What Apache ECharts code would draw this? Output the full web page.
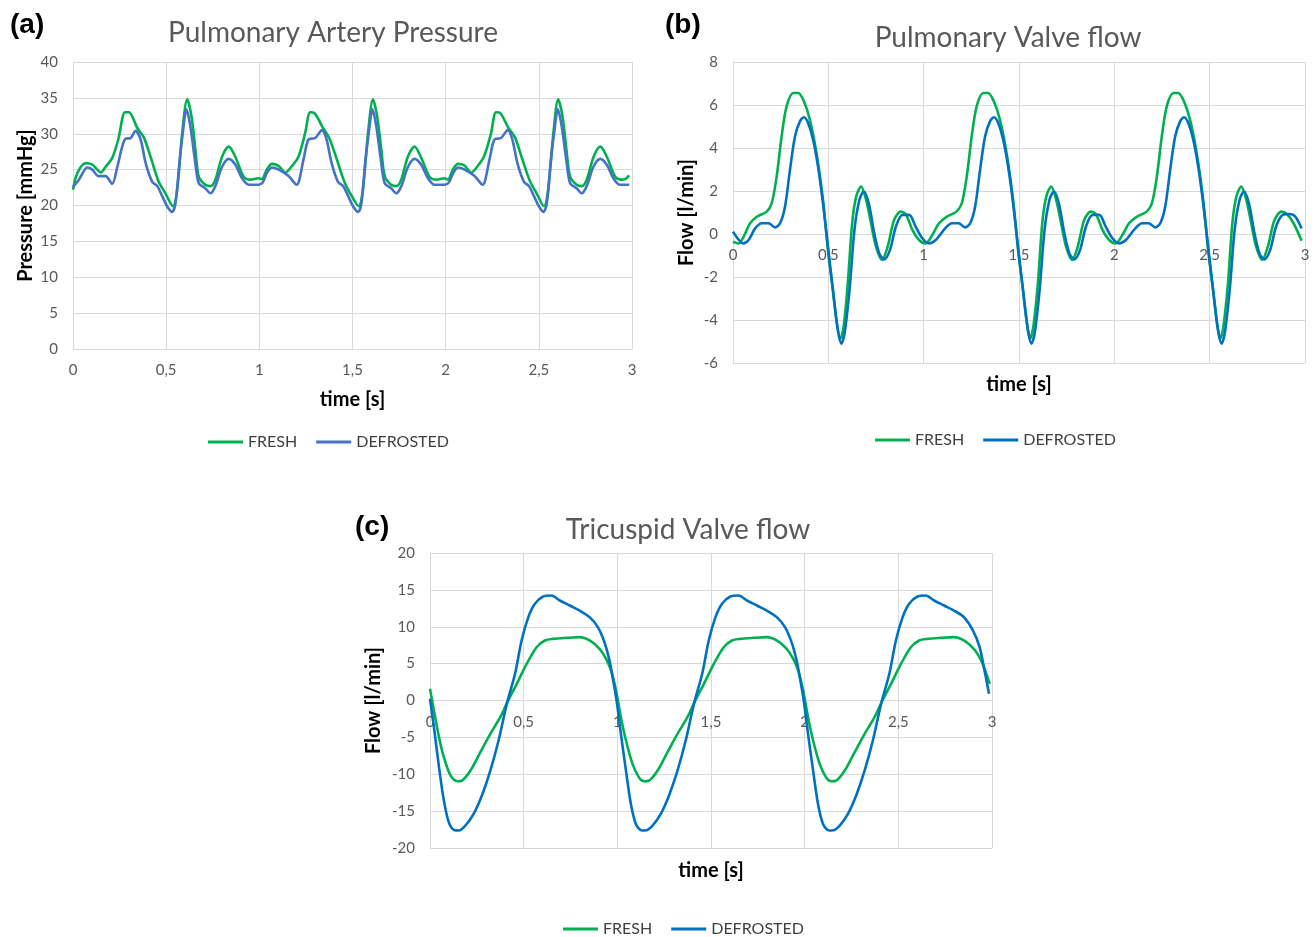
<!DOCTYPE html>
<html>
<head>
<meta charset="utf-8">
<script src="https://cdn.jsdelivr.net/npm/echarts@6/dist/echarts.min.js"></script>
<style>
  html, body { margin: 0; background: #ffffff; }
  #chart-container { width: 1316px; height: 937px; }
</style>
</head>
<body>
<div id="chart-container"></div>
<script>
// [time s, value] pairs
const papFresh = [
  [0,22.2],[0.023,24.5],[0.068,25.9],[0.104,25.7],[0.13,25.0],[0.148,24.6],[0.175,25.4],[0.21,26.6],[0.243,29.2],[0.279,33.0],[0.3,33.0],[0.345,30.8],[0.38,29.5],[0.416,26.8],[0.46,23.3],[0.496,21.7],[0.536,19.9],[0.559,22.2],[0.586,30.1],[0.613,34.8],[0.636,32.4],[0.657,27.8],[0.675,24.0],[0.71,22.9],[0.738,22.7],[0.764,23.6],[0.8,26.8],[0.836,28.2],[0.871,26.8],[0.916,24.0],[0.952,23.6],[0.996,23.8],
  [1.014,23.7],[1.04,25.0],[1.068,25.8],[1.104,25.5],[1.14,24.6],[1.175,25.5],[1.21,26.8],[1.246,30.1],[1.273,33.0],[1.295,32.9],[1.34,30.9],[1.375,29.4],[1.41,26.9],[1.455,23.4],[1.49,21.6],[1.533,19.9],[1.556,22.3],[1.583,30.0],[1.61,34.8],[1.633,32.3],[1.655,27.7],[1.673,24.1],[1.707,22.9],[1.735,22.7],[1.76,23.5],[1.797,26.8],[1.833,28.2],[1.868,26.7],[1.913,24.0],[1.95,23.6],[1.993,23.8],
  [2.012,23.6],[2.038,25.0],[2.066,25.8],[2.1,25.6],[2.137,24.6],[2.172,25.5],[2.207,26.9],[2.243,30.0],[2.27,33.0],[2.292,32.9],[2.337,30.8],[2.372,29.5],[2.407,26.8],[2.452,23.4],[2.488,21.7],[2.527,19.9],[2.55,22.2],[2.578,30.1],[2.604,34.8],[2.627,32.4],[2.648,27.8],[2.668,24.0],[2.703,22.9],[2.73,22.7],[2.757,23.6],[2.794,26.8],[2.83,28.2],[2.865,26.8],[2.91,24.0],[2.945,23.6],[2.965,23.7],[2.985,24.2]
];
const papDefrosted = [
  [0,22.6],[0.032,23.6],[0.077,25.3],[0.104,25.0],[0.136,24.1],[0.175,24.1],[0.21,23.0],[0.238,25.4],[0.264,28.2],[0.282,29.3],[0.309,29.4],[0.336,30.4],[0.363,29.2],[0.39,25.9],[0.425,23.3],[0.452,22.7],[0.479,21.3],[0.505,19.9],[0.532,19.1],[0.55,20.3],[0.571,25.9],[0.589,30.1],[0.609,33.4],[0.63,31.0],[0.654,26.4],[0.675,23.1],[0.71,22.4],[0.738,21.7],[0.764,22.7],[0.8,25.4],[0.836,26.5],[0.871,25.7],[0.907,23.8],[0.943,22.9],[0.996,22.9],
  [1.018,23.2],[1.04,24.5],[1.068,25.3],[1.104,25.0],[1.157,24.1],[1.2,22.9],[1.237,26.4],[1.264,29.2],[1.3,29.4],[1.336,30.5],[1.36,29.3],[1.388,25.9],[1.422,23.3],[1.45,22.7],[1.477,21.3],[1.503,19.9],[1.53,19.1],[1.548,20.3],[1.568,25.9],[1.587,30.1],[1.607,33.4],[1.628,31.0],[1.652,26.4],[1.673,23.1],[1.708,22.4],[1.735,21.7],[1.762,22.7],[1.798,25.4],[1.833,26.5],[1.868,25.7],[1.905,23.8],[1.94,22.9],[1.995,22.9],
  [2.017,23.2],[2.04,24.5],[2.067,25.3],[2.102,25.0],[2.155,24.1],[2.198,22.9],[2.235,26.4],[2.262,29.2],[2.297,29.4],[2.333,30.5],[2.357,29.3],[2.385,25.9],[2.42,23.3],[2.447,22.7],[2.474,21.3],[2.5,19.9],[2.525,19.1],[2.543,20.3],[2.563,25.9],[2.582,30.1],[2.602,33.4],[2.623,31.0],[2.647,26.4],[2.668,23.1],[2.703,22.4],[2.73,21.7],[2.757,22.7],[2.793,25.4],[2.829,26.5],[2.864,25.7],[2.9,23.8],[2.935,22.9],[2.985,22.9]
];
const pvFresh = [
  [0,-0.36],[0.03,-0.44],[0.056,-0.12],[0.09,0.5],[0.125,0.8],[0.177,1.04],[0.203,1.43],[0.229,2.67],[0.255,4.54],[0.281,5.94],[0.316,6.56],[0.342,6.56],[0.372,6.17],[0.403,5.32],[0.438,3.76],[0.472,1.59],[0.498,-0.75],[0.524,-2.61],[0.545,-4.17],[0.563,-4.87],[0.58,-4.32],[0.602,-2.3],[0.625,0.5],[0.646,1.74],[0.672,2.21],[0.698,1.59],[0.724,0.5],[0.75,-0.59],[0.781,-1.21],[0.811,-0.59],[0.845,0.65],[0.88,1.04],[0.906,0.93],[0.941,0.19],[0.976,-0.28],
  [1.01,-0.44],[1.045,-0.05],[1.08,0.5],[1.12,0.8],[1.172,1.04],[1.2,1.43],[1.226,2.67],[1.252,4.54],[1.278,5.94],[1.313,6.56],[1.338,6.56],[1.368,6.17],[1.4,5.32],[1.435,3.76],[1.469,1.59],[1.495,-0.75],[1.521,-2.61],[1.542,-4.17],[1.558,-4.87],[1.575,-4.32],[1.599,-2.3],[1.622,0.5],[1.643,1.74],[1.669,2.21],[1.695,1.59],[1.721,0.5],[1.747,-0.59],[1.778,-1.21],[1.808,-0.59],[1.842,0.65],[1.877,1.04],[1.903,0.93],[1.938,0.19],[1.973,-0.28],
  [2.007,-0.44],[2.042,-0.05],[2.077,0.5],[2.117,0.8],[2.17,1.04],[2.197,1.43],[2.223,2.67],[2.249,4.54],[2.275,5.94],[2.31,6.56],[2.335,6.56],[2.365,6.17],[2.397,5.32],[2.432,3.76],[2.466,1.59],[2.492,-0.75],[2.518,-2.61],[2.539,-4.17],[2.555,-4.87],[2.572,-4.32],[2.596,-2.3],[2.619,0.5],[2.64,1.74],[2.666,2.21],[2.692,1.59],[2.718,0.5],[2.744,-0.59],[2.775,-1.21],[2.805,-0.59],[2.84,0.65],[2.877,1.04],[2.905,0.93],[2.94,0.5],[2.982,-0.31]
];
const pvDefrosted = [
  [0,0.11],[0.024,-0.2],[0.052,-0.44],[0.082,-0.28],[0.116,0.26],[0.151,0.5],[0.186,0.5],[0.22,0.31],[0.247,0.5],[0.273,1.28],[0.299,2.99],[0.325,4.54],[0.351,5.24],[0.372,5.43],[0.394,5.16],[0.42,4.39],[0.446,3.14],[0.472,1.43],[0.498,-0.59],[0.524,-2.61],[0.55,-4.48],[0.568,-5.1],[0.585,-4.63],[0.611,-2.61],[0.637,0.19],[0.663,1.59],[0.686,1.98],[0.712,1.43],[0.741,0.03],[0.767,-0.9],[0.793,-1.18],[0.823,-0.75],[0.854,0.34],[0.889,0.89],[0.924,0.89],[0.958,0.34],[0.993,-0.2],
  [1.028,-0.44],[1.063,-0.28],[1.113,0.26],[1.148,0.5],[1.183,0.5],[1.217,0.31],[1.244,0.5],[1.27,1.28],[1.296,2.99],[1.322,4.54],[1.348,5.24],[1.369,5.43],[1.391,5.16],[1.417,4.39],[1.443,3.14],[1.469,1.43],[1.495,-0.59],[1.521,-2.61],[1.547,-4.48],[1.565,-5.1],[1.582,-4.63],[1.608,-2.61],[1.634,0.19],[1.66,1.59],[1.683,1.98],[1.709,1.43],[1.738,0.03],[1.764,-0.9],[1.79,-1.18],[1.82,-0.75],[1.851,0.34],[1.886,0.89],[1.921,0.89],[1.955,0.34],[1.99,-0.2],
  [2.025,-0.44],[2.06,-0.28],[2.11,0.26],[2.145,0.5],[2.18,0.5],[2.214,0.31],[2.241,0.5],[2.267,1.28],[2.293,2.99],[2.319,4.54],[2.345,5.24],[2.366,5.43],[2.388,5.16],[2.414,4.39],[2.44,3.14],[2.466,1.43],[2.492,-0.59],[2.518,-2.61],[2.544,-4.48],[2.562,-5.1],[2.579,-4.63],[2.605,-2.61],[2.631,0.19],[2.657,1.59],[2.68,1.98],[2.706,1.43],[2.735,0.03],[2.761,-0.9],[2.787,-1.18],[2.817,-0.75],[2.848,0.34],[2.883,0.89],[2.918,0.93],[2.95,0.8],[2.982,0.26]
];
const tvFresh = [
  [0,1.58],[0.021,-1.36],[0.048,-4.97],[0.074,-7.69],[0.11,-10.2],[0.145,-10.94],[0.171,-10.85],[0.216,-9.5],[0.269,-7.0],[0.322,-4.52],[0.375,-2.26],[0.413,-0.23],[0.463,2.26],[0.516,4.97],[0.569,7.23],[0.613,8.14],[0.657,8.36],[0.728,8.5],[0.799,8.59],[0.852,8.14],[0.905,7.0],[0.94,5.65],[0.966,4.07],[0.993,1.36],
  [1.019,-2.26],[1.046,-5.42],[1.081,-8.59],[1.117,-10.49],[1.143,-10.94],[1.17,-10.85],[1.215,-9.5],[1.268,-7.0],[1.321,-4.52],[1.374,-2.26],[1.412,-0.23],[1.462,2.26],[1.515,4.97],[1.568,7.23],[1.612,8.14],[1.656,8.36],[1.727,8.5],[1.798,8.59],[1.851,8.14],[1.904,7.0],[1.939,5.65],[1.965,4.07],[1.992,1.36],
  [2.018,-2.26],[2.045,-5.42],[2.08,-8.59],[2.116,-10.49],[2.142,-10.94],[2.169,-10.85],[2.214,-9.5],[2.267,-7.0],[2.32,-4.52],[2.373,-2.26],[2.411,-0.23],[2.461,2.26],[2.514,4.97],[2.567,7.23],[2.611,8.14],[2.655,8.36],[2.726,8.5],[2.797,8.59],[2.85,8.14],[2.903,7.0],[2.93,6.0],[2.95,4.97],[2.988,2.26]
];
const tvDefrosted = [
  [0,0.23],[0.021,-3.6],[0.048,-9.04],[0.074,-13.56],[0.1,-16.5],[0.127,-17.54],[0.154,-17.63],[0.189,-16.95],[0.233,-15.37],[0.277,-12.88],[0.322,-9.5],[0.366,-5.42],[0.41,-0.45],[0.454,3.62],[0.489,8.14],[0.525,11.3],[0.56,13.11],[0.604,14.1],[0.648,14.24],[0.693,13.56],[0.746,12.88],[0.799,12.2],[0.852,11.3],[0.896,9.95],[0.931,7.91],[0.958,5.42],[0.975,3.16],[0.996,0],
  [1.019,-4.52],[1.046,-9.5],[1.072,-14.0],[1.099,-16.73],[1.131,-17.63],[1.153,-17.6],[1.188,-16.95],[1.232,-15.37],[1.276,-12.88],[1.321,-9.5],[1.365,-5.42],[1.409,-0.45],[1.453,3.62],[1.488,8.14],[1.524,11.3],[1.559,13.11],[1.603,14.1],[1.647,14.24],[1.692,13.56],[1.745,12.88],[1.798,12.2],[1.851,11.3],[1.895,9.95],[1.93,7.91],[1.957,5.42],[1.974,3.16],[1.995,0],
  [2.018,-4.52],[2.045,-9.5],[2.071,-14.0],[2.098,-16.73],[2.13,-17.63],[2.152,-17.6],[2.187,-16.95],[2.231,-15.37],[2.275,-12.88],[2.32,-9.5],[2.364,-5.42],[2.408,-0.45],[2.452,3.62],[2.487,8.14],[2.523,11.3],[2.558,13.11],[2.602,14.1],[2.646,14.24],[2.691,13.56],[2.744,12.88],[2.797,12.2],[2.85,11.3],[2.898,9.5],[2.934,7.23],[2.96,4.07],[2.984,0.9]
];

const seriesNames = ["FRESH", "DEFROSTED"];
const panelTitles = ["Pulmonary Artery Pressure", "Pulmonary Valve flow", "Tricuspid Valve flow"];
const panelLetters = ["(a)", "(b)", "(c)"];
const yNames = ["Pressure [mmHg]", "Flow [l/min]", "Flow [l/min]"];
const xName = "time [s]";

const GREEN = "#00B050";
const FONT = "Lato";
const GREY_TEXT = "#595959";
const GRID_LINE = "#d9d9d9";

const dom = document.getElementById("chart-container");
const myChart = echarts.init(dom, null, { renderer: "canvas" });

// excel style decimal comma
const commaLabel = (v) => String(v).replace(".", ",");

const panels = [
  { grid: { left: 73, top: 62, width: 559, height: 287 }, y: [0, 40, 5], yGap: 37, xGap: 41,
    blue: "#4472C4", data: [papFresh, papDefrosted],
    title: [333, 33], letter: [10, 25], legend: [208, 434] },
  { grid: { left: 733, top: 62, width: 572, height: 301 }, y: [-6, 8, 2], yGap: 36, xGap: 12,
    blue: "#0070C0", data: [pvFresh, pvDefrosted],
    title: [1008, 38], letter: [665, 25], legend: [875, 432] },
  { grid: { left: 430, top: 553, width: 562, height: 295 }, y: [-20, 20, 5], yGap: 46, xGap: 13,
    blue: "#0070C0", data: [tvFresh, tvDefrosted],
    title: [688, 530], letter: [355, 527], legend: [563, 921] },
];

const axisText = { color: GREY_TEXT, fontSize: 15, fontFamily: FONT };
const nameText = { color: "#000", fontSize: 20, fontWeight: "bold", fontFamily: FONT };

const option = {
  animation: false,
  backgroundColor: "#ffffff",
  title: [],
  legend: [],
  grid: [],
  xAxis: [],
  yAxis: [],
  series: [],
};

panels.forEach((p, i) => {
  option.grid.push(p.grid);

  option.title.push({
    text: panelTitles[i], left: p.title[0], top: p.title[1], padding: 0,
    textAlign: "center", textVerticalAlign: "middle",
    textStyle: { color: GREY_TEXT, fontSize: 28, fontWeight: "normal", fontFamily: FONT },
  });
  option.title.push({
    text: panelLetters[i], left: p.letter[0], top: p.letter[1], padding: 0,
    textVerticalAlign: "middle",
    textStyle: { color: "#000", fontSize: 28, fontWeight: "bold", fontFamily: "Liberation Sans" },
  });

  // distance from plot bottom up to the zero line, tick labels ride on y = 0
  const zeroShift = (p.grid.height * (0 - p.y[0])) / (p.y[1] - p.y[0]);

  option.xAxis.push({
    gridIndex: i, type: "value", min: 0, max: 3, interval: 0.5,
    offset: -zeroShift,
    axisLine: { show: false, onZero: false },
    axisTick: { show: false },
    axisLabel: { ...axisText, margin: 14, formatter: commaLabel },
    splitLine: { lineStyle: { color: GRID_LINE } },
    name: xName, nameLocation: "middle", nameGap: zeroShift + p.xGap, nameTextStyle: nameText,
  });
  option.yAxis.push({
    gridIndex: i, type: "value", min: p.y[0], max: p.y[1], interval: p.y[2],
    axisLine: { show: true, onZero: false, lineStyle: { color: GRID_LINE } },
    axisTick: { show: false },
    axisLabel: { ...axisText, margin: 15 },
    splitLine: { lineStyle: { color: GRID_LINE } },
    name: yNames[i], nameLocation: "middle", nameRotate: 90, nameGap: p.yGap, nameTextStyle: nameText,
  });

  const colors = [GREEN, p.blue];
  p.data.forEach((d, k) => {
    option.series.push({
      name: seriesNames[k], type: "line", xAxisIndex: i, yAxisIndex: i,
      data: d, showSymbol: false, smooth: 0.3, color: colors[k],
      lineStyle: { width: 2.6 },
    });
  });

  option.legend.push({
    left: p.legend[0], top: p.legend[1], padding: 0,
    icon: "rect", itemWidth: 35, itemHeight: 3, itemGap: 19,
    textStyle: { color: "#404040", fontSize: 16, fontFamily: FONT },
    data: seriesNames.map((n, k) => ({ name: n, itemStyle: { color: colors[k] } })),
  });
});

myChart.setOption(option);
window.addEventListener("resize", myChart.resize);
</script>
</body>
</html>
